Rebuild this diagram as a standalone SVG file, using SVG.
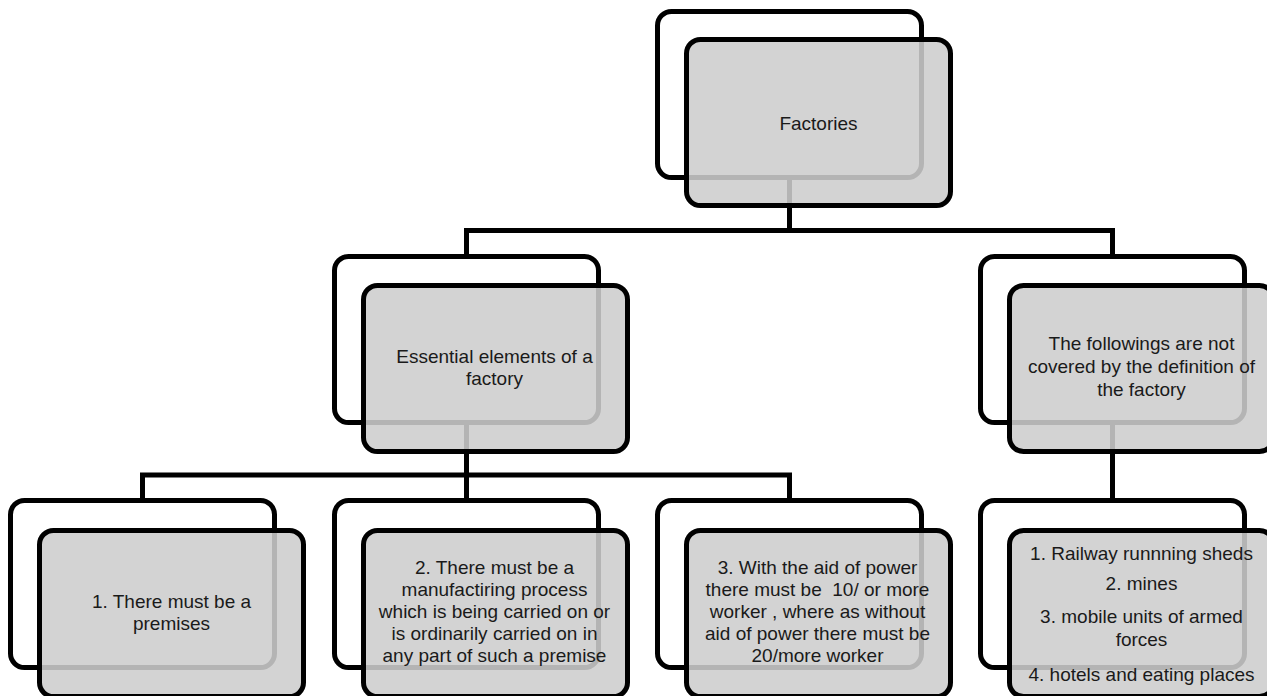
<svg xmlns="http://www.w3.org/2000/svg" width="1267" height="696" viewBox="0 0 1267 696">
  <style>
    .conn { fill: none; stroke: #000; stroke-width: 5; }
    .back { fill: #fff; stroke: #000; stroke-width: 5; }
    .front { fill: rgb(205,205,205); fill-opacity: 0.88; stroke: #000; stroke-width: 5; }
    .lbl { font-family: "Liberation Sans", Arial, sans-serif; font-size: 19px; fill: #1a1a1a; text-anchor: middle; }
  </style>
  <rect width="1267" height="696" fill="#fff"/>

  <!-- connectors (drawn beneath the boxes) -->
  <g id="connectors">
    <path class="conn" d="M789.5 177.5 V230.5"/>
    <path class="conn" d="M466.5 256.5 V230.5 H1112.5 V256.5"/>
    <path class="conn" d="M466.5 422.5 V475"/>
    <path class="conn" d="M142.5 500.5 V475 H789.5 V500.5"/>
    <path class="conn" d="M466.5 475 V500.5"/>
    <path class="conn" d="M1112.5 422.5 V500.5"/>
  </g>

  <g id="factories">
    <rect class="back" x="657.5" y="11.5" width="264" height="166" rx="14"/>
    <rect class="front" x="686.5" y="39.5" width="264" height="166" rx="14"/>
    <text class="lbl" x="818.5" y="130">Factories</text>
  </g>

  <g id="essential-elements">
    <rect class="back" x="334.5" y="256.5" width="264" height="166" rx="14"/>
    <rect class="front" x="363.5" y="285.5" width="264" height="166" rx="14"/>
    <text class="lbl" x="494.5" y="363">Essential elements of a</text>
    <text class="lbl" x="494.5" y="385">factory</text>
  </g>

  <g id="not-covered">
    <rect class="back" x="980.5" y="256.5" width="264" height="166" rx="14"/>
    <rect class="front" x="1009.5" y="285.5" width="264" height="166" rx="14"/>
    <text class="lbl" x="1141.5" y="350">The followings are not</text>
    <text class="lbl" x="1141.5" y="373">covered by the definition of</text>
    <text class="lbl" x="1141.5" y="396">the factory</text>
  </g>

  <g id="element-1">
    <rect class="back" x="10.5" y="500.5" width="264" height="167" rx="14"/>
    <rect class="front" x="39.5" y="530.5" width="264" height="166" rx="14"/>
    <text class="lbl" x="171.5" y="608">1. There must be a</text>
    <text class="lbl" x="171.5" y="630">premises</text>
  </g>

  <g id="element-2">
    <rect class="back" x="334.5" y="500.5" width="264" height="167" rx="14"/>
    <rect class="front" x="363.5" y="530.5" width="264" height="166" rx="14"/>
    <text class="lbl" x="494.5" y="574">2. There must be a</text>
    <text class="lbl" x="494.5" y="596">manufactiring process</text>
    <text class="lbl" x="494.5" y="618">which is being carried on or</text>
    <text class="lbl" x="494.5" y="640">is ordinarily carried on in</text>
    <text class="lbl" x="494.5" y="662">any part of such a premise</text>
  </g>

  <g id="element-3">
    <rect class="back" x="657.5" y="500.5" width="264" height="167" rx="14"/>
    <rect class="front" x="686.5" y="530.5" width="264" height="166" rx="14"/>
    <text class="lbl" x="817.5" y="574">3. With the aid of power</text>
    <text class="lbl" x="817.5" y="596" xml:space="preserve">there must be  10/ or more</text>
    <text class="lbl" x="817.5" y="618">worker , where as without</text>
    <text class="lbl" x="817.5" y="640">aid of power there must be</text>
    <text class="lbl" x="817.5" y="662">20/more worker</text>
  </g>

  <g id="exclusions">
    <rect class="back" x="980.5" y="500.5" width="264" height="167" rx="14"/>
    <rect class="front" x="1009.5" y="530.5" width="264" height="166" rx="14"/>
    <text class="lbl" x="1141.5" y="560">1. Railway runnning sheds</text>
    <text class="lbl" x="1141.5" y="590">2. mines</text>
    <text class="lbl" x="1141.5" y="623">3. mobile units of armed</text>
    <text class="lbl" x="1141.5" y="645.5">forces</text>
    <text class="lbl" x="1141.5" y="680.5">4. hotels and eating places</text>
  </g>
</svg>
